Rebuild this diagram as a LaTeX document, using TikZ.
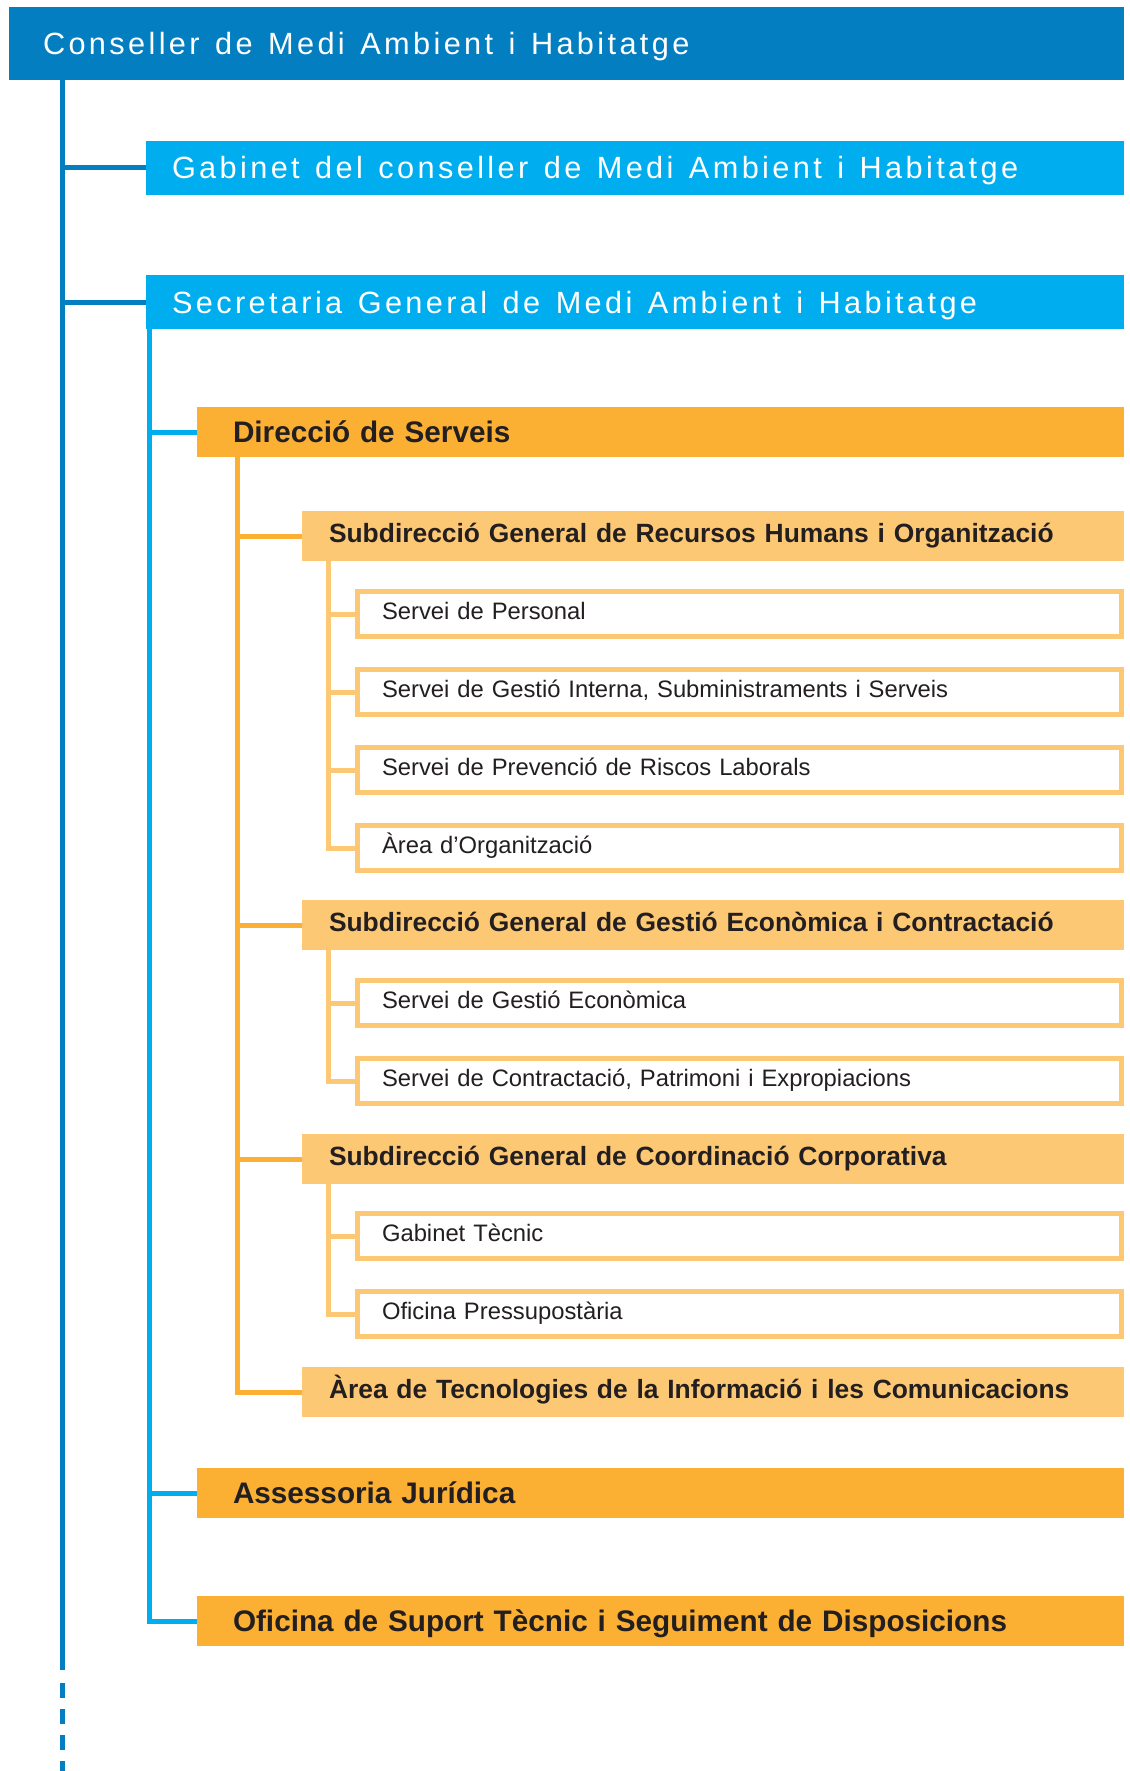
\documentclass[tikz,border=0pt]{standalone}
\usepackage{fontspec}
\setmainfont{Liberation Sans}
\newfontfamily\widefont[LetterSpace=11]{Liberation Sans}
\newcommand\wsp{\hspace{15.5pt}}
\usetikzlibrary{positioning}

\definecolor{dkblue}{HTML}{037FC1}
\definecolor{ltblue}{HTML}{00AEEF}
\definecolor{orng}{HTML}{FBB034}
\definecolor{lorng}{HTML}{FDC874}
\definecolor{ink}{HTML}{231F20}

\tikzset{
  box/.style={anchor=north west, inner ysep=0pt, outer sep=0pt, align=left},
  lvlzero/.style={box, fill=dkblue, text=white, font=\widefont\fontsize{30.7}{36}\selectfont,
    inner xsep=34pt, text width=1047pt, minimum height=73pt, text height=22pt, text depth=0pt},
  lvlone/.style={box, fill=ltblue, text=white, font=\widefont\fontsize{30.7}{36}\selectfont,
    inner xsep=26pt, text width=926pt, minimum height=54pt, text height=22pt, text depth=0pt},
  lvltwo/.style={box, fill=orng, text=ink, font=\bfseries\fontsize{29.7}{36}\selectfont,
    inner xsep=36.5pt, text width=854.5pt, minimum height=50pt, text height=21.5pt, text depth=0pt},
  lvlthree/.style={box, fill=lorng, text=ink, font=\bfseries\fontsize{26.4}{32}\selectfont,
    inner xsep=27pt, text width=768pt, minimum height=50pt, text height=19pt, text depth=6pt},
  servei/.style={box, draw=lorng, line width=5pt, fill=white, text=ink, font=\fontsize{23.8}{29}\selectfont,
    inner xsep=24.5pt, text width=715pt, minimum height=45pt, text height=17.5pt, text depth=6pt},
  link/.style={line width=5pt},
}

\begin{document}
\begin{tikzpicture}[x=1pt,y=-1pt]
  \useasboundingbox (0,0) rectangle (1129,1771);

  % top levels
  \node[lvlzero] (cons) at (9,7) {Conseller\wsp de\wsp Medi\wsp Ambient\wsp i\wsp Habitatge};
  \node[lvlone] (gab) at (146,141) {Gabinet\wsp del\wsp conseller\wsp de\wsp Medi\wsp Ambient\wsp i\wsp Habitatge};
  \node[lvlone] (sec) at (146,275) {Secretaria\wsp General\wsp de\wsp Medi\wsp Ambient\wsp i\wsp Habitatge};

  \node[lvltwo] (dir) at (196.5,407) {Direcció de Serveis};
  \node[lvltwo] (ajur) at (196.5,1468) {Assessoria Jurídica};
  \node[lvltwo] (osup) at (196.5,1596) {Oficina de Suport Tècnic i Seguiment de Disposicions};

  % subdireccions
  \node[lvlthree] (sdrh) at (302,511) {Subdirecció General de Recursos Humans i Organització};
  \node[lvlthree] (sdge) at (302,900) {Subdirecció General de Gestió Econòmica i Contractació};
  \node[lvlthree] (sdcc) at (302,1134) {Subdirecció General de Coordinació Corporativa};
  \node[lvlthree] (atic) at (302,1367) {Àrea de Tecnologies de la Informació i les Comunicacions};

  % serveis
  \node[servei, below right=30.5pt and 55.5pt of sdrh.south west] (pers) {Servei de Personal};
  \node[servei, below=33pt of pers] (gint) {Servei de Gestió Interna, Subministraments i Serveis};
  \node[servei, below=33pt of gint] (prev) {Servei de Prevenció de Riscos Laborals};
  \node[servei, below=33pt of prev] (org) {Àrea d’Organització};

  \node[servei, below right=30.5pt and 55.5pt of sdge.south west] (geco) {Servei de Gestió Econòmica};
  \node[servei, below=33pt of geco] (contr) {Servei de Contractació, Patrimoni i Expropiacions};

  \node[servei, below right=29.5pt and 55.5pt of sdcc.south west] (gtec) {Gabinet Tècnic};
  \node[servei, below=33pt of gtec] (opre) {Oficina Pressupostària};

  % trunk
  \coordinate (tk) at (62.5,80);
  \coordinate (tkend) at (62.5,1670);
  \coordinate (tkdash) at (62.5,1683);
  \coordinate (tkbot) at (62.5,1771);
  \draw[link, dkblue] (tk) -- (tkend);
  \draw[link, dkblue, dash pattern=on 15pt off 11pt] (tkdash) -- (tkbot);
  \draw[link, dkblue] (tk |- gab.west) -- (gab.west);
  \draw[link, dkblue] (tk |- sec.west) -- (sec.west);

  % secretaria
  \coordinate (secv) at ([xshift=3.5pt]sec.south west);
  \draw[link, ltblue] (secv) |- (osup.west);
  \draw[link, ltblue] (secv |- dir.west) -- (dir.west);
  \draw[link, ltblue] (secv |- ajur.west) -- (ajur.west);

  % direccio
  \coordinate (dirv) at ([xshift=41pt]dir.south west);
  \draw[link, orng] (dirv) |- (atic.west);
  \draw[link, orng] (dirv |- sdrh.west) -- (sdrh.west);
  \draw[link, orng] (dirv |- sdge.west) -- (sdge.west);
  \draw[link, orng] (dirv |- sdcc.west) -- (sdcc.west);

  % subdireccions
  \coordinate (rhv) at ([xshift=26.5pt]sdrh.south west);
  \draw[link, lorng] (rhv) |- (org.west);
  \draw[link, lorng] (rhv |- pers.west) -- (pers.west);
  \draw[link, lorng] (rhv |- gint.west) -- (gint.west);
  \draw[link, lorng] (rhv |- prev.west) -- (prev.west);

  \coordinate (gev) at ([xshift=26.5pt]sdge.south west);
  \draw[link, lorng] (gev) |- (contr.west);
  \draw[link, lorng] (gev |- geco.west) -- (geco.west);

  \coordinate (ccv) at ([xshift=26.5pt]sdcc.south west);
  \draw[link, lorng] (ccv) |- (opre.west);
  \draw[link, lorng] (ccv |- gtec.west) -- (gtec.west);
\end{tikzpicture}
\end{document}
